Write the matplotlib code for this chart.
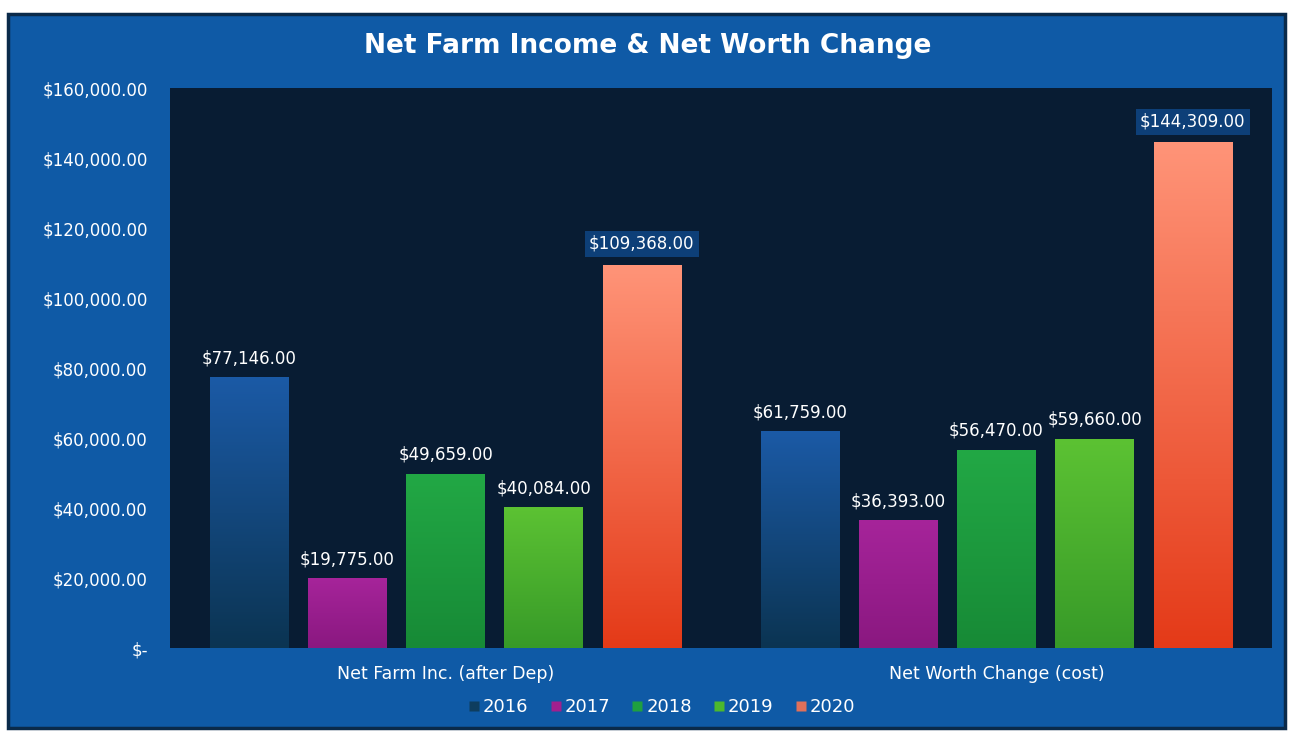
import matplotlib
matplotlib.use("Agg")
import matplotlib.pyplot as plt
import numpy as np
from matplotlib.colors import LinearSegmentedColormap
from matplotlib.patches import Rectangle
from matplotlib.lines import Line2D

categories = ["Net Farm Inc. (after Dep)", "Net Worth Change (cost)"]
years = ["2016", "2017", "2018", "2019", "2020"]
values = {
    "2016": [77146, 61759],
    "2017": [19775, 36393],
    "2018": [49659, 56470],
    "2019": [40084, 59660],
    "2020": [109368, 144309],
}
yticks = [0, 20000, 40000, 60000, 80000, 100000, 120000, 140000, 160000]

# (bottom colour, top colour) of each series gradient
grad = {
    "2016": ("#0b3452", "#1b5aa6"),
    "2017": ("#8a1880", "#a6249a"),
    "2018": ("#178a36", "#22a845"),
    "2019": ("#379a28", "#5cc233"),
    "2020": ("#e43a18", "#ff9478"),
}
legend_col = {"2016": "#0e3d5e", "2017": "#a0208e", "2018": "#1fa040",
              "2019": "#4cb82e", "2020": "#e0705a"}

BG = "#0f5aa6"
PLOT = "#081c33"
FONT = "DejaVu Sans"

fig = plt.figure(figsize=(12.95, 7.36), dpi=100, facecolor="white")
fig.patches.append(Rectangle((8 / 1295, 8 / 736), 1277 / 1295, 714 / 736,
                             transform=fig.transFigure, facecolor=BG,
                             edgecolor="#0a2a4a", linewidth=2.5, zorder=-5))

ax = fig.add_axes([170 / 1295, 88 / 736, 1102 / 1295, 560 / 736])
ax.set_zorder(1)
ax.set_facecolor(PLOT)

x = np.arange(len(categories))
step = 0.178
width = 0.142
for i, yr in enumerate(years):
    offs = (i - 2) * step
    bars = ax.bar(x + offs, values[yr], width=width, color=grad[yr][1], zorder=2)
    cmap = LinearSegmentedColormap.from_list(yr, [grad[yr][0], grad[yr][1]])
    for b, v in zip(bars, values[yr]):
        x0, w, h = b.get_x(), b.get_width(), b.get_height()
        g = np.linspace(0, 1, 256).reshape(-1, 1)
        ax.imshow(g, extent=[x0, x0 + w, 0, h], origin="lower", aspect="auto",
                  cmap=cmap, zorder=2.5)
        txt = "${:,.2f}".format(v)
        if yr == "2020":
            ax.text(x0 + w / 2, h + 3500, txt, ha="center", va="bottom",
                    color="white", fontsize=12, family=FONT, zorder=4,
                    bbox=dict(boxstyle="square,pad=0.25", facecolor="#0d3f78",
                              edgecolor="none"))
        else:
            ax.text(x0 + w / 2, h + 3000, txt, ha="center", va="bottom",
                    color="white", fontsize=12, family=FONT, zorder=4)

ax.set_xlim(-0.5, 1.5)
ax.set_ylim(0, 160000)
ax.set_yticks(yticks)
ax.set_yticklabels(["$-" if t == 0 else "${:,.2f}".format(t) for t in yticks],
                   color="white", fontsize=12, family=FONT)
ax.tick_params(axis="y", length=0, pad=16)
ax.set_xticks(x)
ax.set_xticklabels(categories, color="white", fontsize=12.5, family=FONT)
ax.tick_params(axis="x", length=0, pad=12)
for s in ax.spines.values():
    s.set_visible(False)

fig.text(0.5, 1 - 46 / 736, "Net Farm Income & Net Worth Change", ha="center",
         va="center", color="white", fontsize=19, fontweight="bold", family=FONT)

handles = [Line2D([], [], marker="s", linestyle="none", markersize=7,
                  markerfacecolor=legend_col[y], markeredgecolor="none")
           for y in years]
fig.legend(handles, years, loc="center", bbox_to_anchor=(660 / 1295, 1 - 707 / 736),
           ncol=5, frameon=False, labelcolor="white",
           handletextpad=0.0, columnspacing=1.0, handlelength=1.0,
           prop={"family": FONT, "size": 13})

fig.savefig("out.png", dpi=100, facecolor="white")
